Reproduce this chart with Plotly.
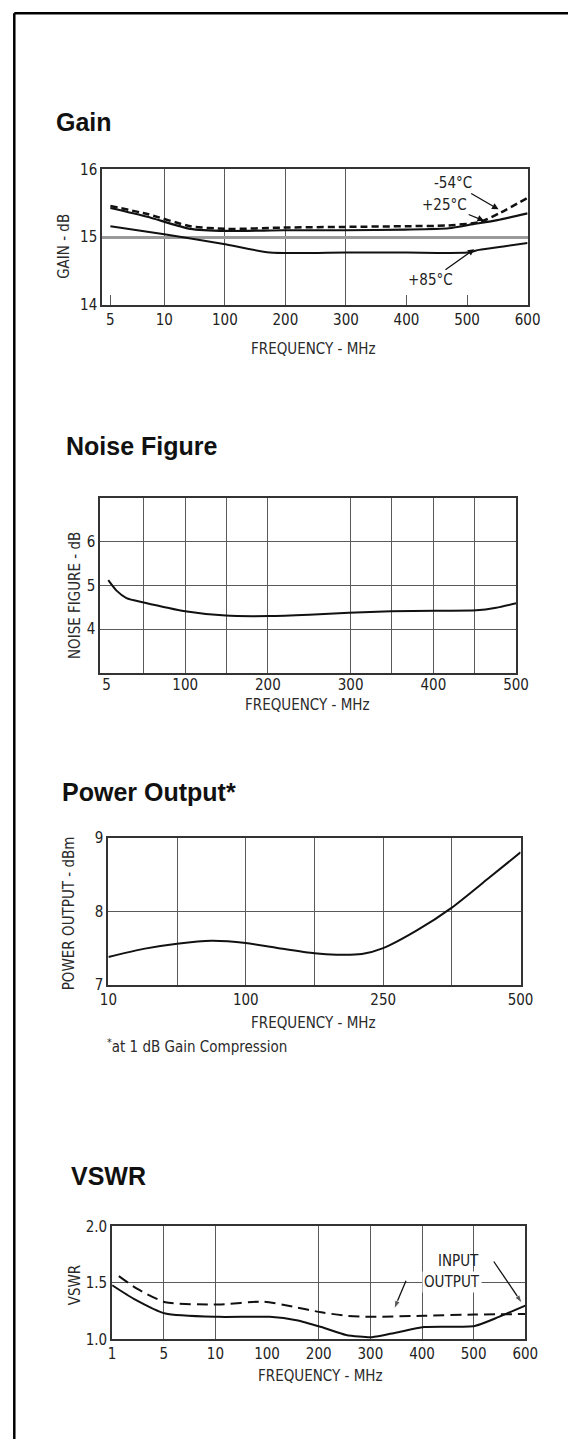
import plotly.graph_objects as go

# ---------------- data ----------------
# Gain (x = position index along the category-like frequency axis)
gain_tick_pos = [0.11, 1, 2, 3, 4, 5, 6, 7]
gain_tick_text = ["5", "10", "100", "200", "300", "400", "500", "600"]
gain_m54_x = [0.11, 0.72, 1.43, 2.03, 2.97, 3.99, 4.98, 5.65, 6.2, 6.55, 7.0]
gain_m54_y = [15.46, 15.34, 15.16, 15.12, 15.14, 15.15, 15.16, 15.17, 15.22, 15.36, 15.58]
gain_p25_x = [0.11, 0.72, 1.43, 2.03, 2.97, 3.99, 4.98, 5.7, 6.1, 6.5, 7.0]
gain_p25_y = [15.43, 15.30, 15.12, 15.09, 15.10, 15.10, 15.11, 15.13, 15.19, 15.25, 15.35]
gain_p85_x = [0.11, 1.0, 2.03, 2.74, 4.0, 5.0, 6.0, 6.2, 6.6, 7.0]
gain_p85_y = [15.16, 15.04, 14.89, 14.77, 14.77, 14.77, 14.77, 14.81, 14.86, 14.91]

# Noise figure (MHz)
noise_tick_vals = [5, 100, 200, 300, 400, 500]
noise_f = [7, 17, 29, 50, 100, 149, 201, 250, 298, 349, 402, 452, 476, 500]
noise_db = [5.12, 4.88, 4.71, 4.61, 4.41, 4.31, 4.30, 4.33, 4.375, 4.41, 4.42, 4.43, 4.49, 4.59]

# Power output (x = position index)
power_tick_pos = [0, 2, 4, 6]
power_tick_text = ["10", "100", "250", "500"]
power_x = [0, 0.51, 1.0, 1.5, 2.0, 2.48, 3.0, 3.32, 3.69, 4.0, 4.49, 5.0, 5.51, 6.0]
power_dbm = [7.38, 7.49, 7.56, 7.60, 7.57, 7.50, 7.43, 7.41, 7.42, 7.50, 7.74, 8.05, 8.43, 8.80]

# VSWR (x = position index)
vswr_tick_pos = [0, 1, 2, 3, 4, 5, 6, 7, 8]
vswr_tick_text = ["1", "5", "10", "100", "200", "300", "400", "500", "600"]
vswr_in_x = [0, 0.42, 1.03, 2.06, 3.05, 3.57, 4.05, 4.53, 5.03, 5.49, 6.04, 7.02, 7.49, 8.0]
vswr_in_y = [1.48, 1.36, 1.23, 1.20, 1.20, 1.17, 1.11, 1.04, 1.02, 1.06, 1.11, 1.12, 1.20, 1.30]
vswr_out_x = [0.13, 0.48, 1.03, 2.06, 2.93, 3.5, 4.05, 4.53, 5.03, 6.04, 7.02, 8.0]
vswr_out_y = [1.56, 1.45, 1.33, 1.31, 1.335, 1.29, 1.24, 1.21, 1.20, 1.21, 1.22, 1.225]

# ---------------- layout helpers ----------------
W, H = 581, 1448
def px(x):
    return x / W
def py(y):
    return 1 - y / H

FONT = "Liberation Sans Narrow, Arial Narrow, DejaVu Sans Condensed, sans-serif"
TFONT = "Liberation Sans, Arial, sans-serif"
INK = "#111111"
GRID = "#5a5a5a"

fig = go.Figure()

def line(x, y, axis, width=2.0, dash="solid", name=""):
    fig.add_trace(go.Scatter(
        x=x, y=y, mode="lines", name=name, xaxis="x" + axis, yaxis="y" + axis,
        line=dict(color=INK, width=width, dash=dash, shape="spline", smoothing=0.6),
        hoverinfo="skip", showlegend=False))

line(gain_m54_x, gain_m54_y, "", 2.5, "7px,4px", "-54°C")
line(gain_p25_x, gain_p25_y, "", 2.2, "solid", "+25°C")
line(gain_p85_x, gain_p85_y, "", 2.0, "solid", "+85°C")
line(noise_f, noise_db, "2", 2.0)
line(power_x, power_dbm, "3", 2.0)
line(vswr_in_x, vswr_in_y, "4", 2.0, "solid", "INPUT")
line(vswr_out_x, vswr_out_y, "4", 2.0, "11px,6px", "OUTPUT")

def xax(domain, rng, tv, tt, grid, anchor, **kw):
    d = dict(domain=[px(domain[0]), px(domain[1])], range=rng, anchor=anchor,
             tickmode="array", tickvals=tv, ticktext=tt,
             showline=True, mirror=True, linecolor="#333", linewidth=2,
             showgrid=False, zeroline=False, fixedrange=True,
             tickfont=dict(family=FONT, size=15, color="#222"),
             minor=dict(tickmode="array", tickvals=grid, showgrid=True,
                        gridcolor=GRID, gridwidth=1, ticks=""))
    d.update(kw)
    return d

def yax(domain, rng, tv, tt, grid, anchor, gcol=GRID, gw=1, **kw):
    d = dict(domain=[py(domain[1]), py(domain[0])], range=rng, anchor=anchor,
             tickmode="array", tickvals=tv, ticktext=tt,
             showline=True, mirror=True, linecolor="#333", linewidth=2,
             showgrid=False, zeroline=False, fixedrange=True,
             tickfont=dict(family=FONT, size=15, color="#222"),
             minor=dict(tickmode="array", tickvals=grid, showgrid=True,
                        gridcolor=gcol, gridwidth=gw, ticks=""))
    d.update(kw)
    return d

gain_box = ((96.9, 539), (162.5, 299.3))
noise_box = ((95, 527), (495, 672.3))
power_box = ((103.3, 531.7), (839, 988.3))
vswr_box = ((107.2, 536.6), (1232.8, 1347.2))

fig.update_layout(
    width=W, height=H, margin=dict(l=0, r=0, t=0, b=0),
    paper_bgcolor="white", plot_bgcolor="white",
    xaxis=xax(gain_box[0], [-0.025, 7], gain_tick_pos, gain_tick_text, [1, 2, 3, 4], "y",
              ticks="inside", ticklen=10, tickcolor=GRID, tickwidth=1),
    yaxis=yax(gain_box[1], [14, 16], [14, 15, 16], ["14", "15", "16"], [15], "x",
              gcol="#9a9a9a", gw=3),
    xaxis2=xax(noise_box[0], [-2.5, 500], noise_tick_vals, [str(v) for v in noise_tick_vals],
               [50, 100, 150, 200, 300, 350, 400, 450], "y2", ticklabelstandoff=-3),
    yaxis2=yax(noise_box[1], [3, 7], [4, 5, 6], ["4", "5", "6"], [4, 5, 6], "x2"),
    xaxis3=xax(power_box[0], [0, 6], power_tick_pos, power_tick_text, [1, 2, 3, 4, 5], "y3"),
    yaxis3=yax(power_box[1], [7, 9], [7, 8, 9], ["7", "8", "9"], [8], "x3"),
    xaxis4=xax(vswr_box[0], [0, 8], vswr_tick_pos, vswr_tick_text, [1, 2, 4, 5, 6, 7], "y4"),
    yaxis4=yax(vswr_box[1], [1, 2], [1, 1.5, 2], ["1.0", "1.5", "2.0"], [1.5], "x4"),
)

ann = []
def ptext(x, y, text, size=15, family=FONT, xanchor="center", angle=0, color="#2a2a2a", bold=False):
    if bold:
        text = "<b>" + text + "</b>"
    ann.append(dict(x=px(x), y=py(y), xref="paper", yref="paper", text=text, showarrow=False,
                    xanchor=xanchor, yanchor="middle", textangle=angle,
                    font=dict(family=family, size=size, color=color)))

# panel titles
ptext(47, 114, "Gain", 25, TFONT, "left", color="#111", bold=True)
ptext(57, 443, "Noise Figure", 25, TFONT, "left", color="#111", bold=True)
ptext(53, 793, "Power Output*", 25, TFONT, "left", color="#111", bold=True)
ptext(62, 1182, "VSWR", 25, TFONT, "left", color="#111", bold=True)

# axis titles
ptext(57, 240, "GAIN - dB", angle=-90)
ptext(316.7, 344, "FREQUENCY - MHz")
ptext(68, 594, "NOISE FIGURE - dB", angle=-90)
ptext(310, 705, "FREQUENCY - MHz")
ptext(62, 916, "POWER OUTPUT - dBm", angle=-90)
ptext(316.7, 1027, "FREQUENCY - MHz")
ptext(100, 1050, "<sup>*</sup>at 1 dB Gain Compression", xanchor="left")
ptext(69, 1292, "VSWR", angle=-90)
ptext(324, 1384, "FREQUENCY - MHz")

def arrow(xa, ya, head_x, head_y, tail_x, tail_y, text):
    ann.append(dict(x=head_x, y=head_y, xref="x" + xa, yref="y" + ya,
                    ax=tail_x, ay=tail_y, axref="x" + xa, ayref="y" + ya,
                    text=text, showarrow=True, arrowhead=2, arrowsize=1, arrowwidth=1.3,
                    arrowcolor=INK, standoff=0,
                    font=dict(family=FONT, size=15, color="#222")))

arrow("", "", 6.52, 15.41, 5.77, 15.80, "-54°C")
arrow("", "", 6.28, 15.24, 5.63, 15.48, "+25°C")
arrow("", "", 6.12, 14.82, 5.40, 14.36, "+85°C")

# VSWR labels
ann.append(dict(x=6.70, y=1.69, xref="x4", yref="y4", text="INPUT", showarrow=False,
                font=dict(family=FONT, size=15, color="#222")))
ann.append(dict(x=6.59, y=1.51, xref="x4", yref="y4", text="OUTPUT", showarrow=False,
                bgcolor="white", font=dict(family=FONT, size=15, color="#222")))

# leader arrows of the VSWR labels (tail -> head)
leaders = [([7.39, 7.94], [1.69, 1.32]), ([5.69, 5.46], [1.52, 1.27])]
for lx, ly in leaders:
    fig.add_trace(go.Scatter(
        x=lx, y=ly, xaxis="x4", yaxis="y4", mode="lines+markers",
        line=dict(color=INK, width=1.3),
        marker=dict(symbol=["circle", "arrow"], size=[0, 9], angleref="previous", color=INK),
        hoverinfo="skip", showlegend=False))

fig.update_layout(annotations=ann)

# page frame (left and top edges)
fig.add_shape(type="line", xref="paper", yref="paper", x0=px(5.5), x1=px(5.5), y0=0, y1=py(4.3),
              line=dict(color="#000", width=2.5))
fig.add_shape(type="line", xref="paper", yref="paper", x0=px(5.5), x1=1, y0=py(4.3), y1=py(4.3),
              line=dict(color="#000", width=2.5))

fig.write_html("out.html", config={"displayModeBar": False},
               post_script="document.body.style.margin='0px';")
